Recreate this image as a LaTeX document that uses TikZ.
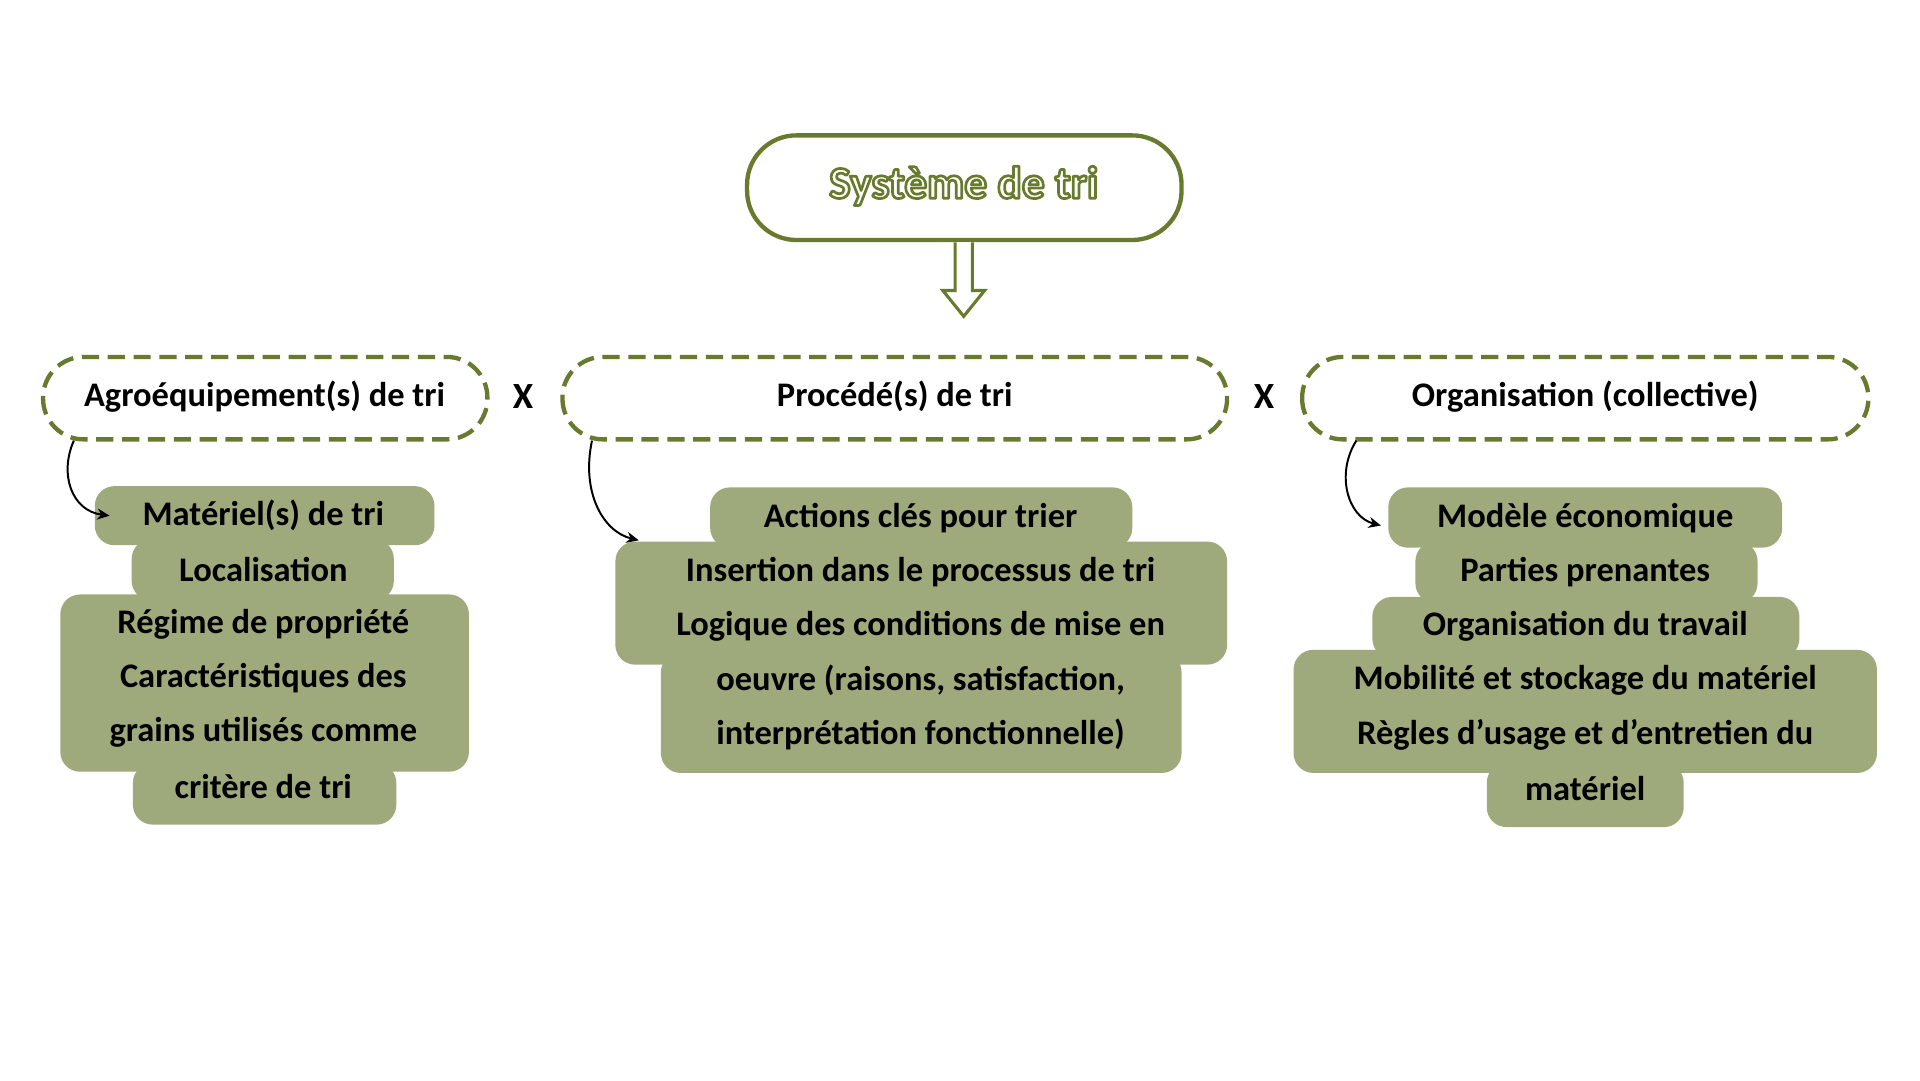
\documentclass[tikz,border=0pt]{standalone}
\usepackage{fontspec}
\setmainfont{Carlito}
\usetikzlibrary{arrows.meta}
\definecolor{dg}{HTML}{677A2E}
\definecolor{lg}{HTML}{9FAA7C}
\newcommand{\outl}[1]{\special{pdf:code q 2 Tr 2.2 w 1 j 0.404 0.478 0.18 RG 1 1 1 rg}#1\special{pdf:code Q}}
\begin{document}
\begin{tikzpicture}[x=1pt,y=-1pt,
  dbox/.style={draw=dg,line width=3.5pt,dash pattern=on 14pt off 7pt,rounded corners=33pt,fill=white},
  lbl/.style={font=\fontsize{28}{30}\selectfont\bfseries,text=black,inner sep=0pt},
  blob/.style={fill=lg,rounded corners=16pt},
  curv/.style={-{Stealth[length=10pt,width=9pt]},line width=1.6pt,black}]
\useasboundingbox (0,0) rectangle (1560,878);
% title
\draw[dg,line width=3.5pt,rounded corners=40pt,fill=white] (607,110) rectangle (960,195);
\node (title) [font=\fontsize{37}{40}\selectfont\bfseries,inner sep=0pt] at (783,151) {\outl{Système de tri}};
% hollow arrow
\draw[dg,line width=2.5pt,fill=white,line join=miter] (776,197) -- (776,236) -- (766,236) -- (783,257) -- (800,236) -- (790,236) -- (790,197);
% dashed boxes
\draw[dbox] (35,290) rectangle (396,357);
\draw[dbox] (457,290) rectangle (997,357);
\draw[dbox] (1058,290) rectangle (1518,357);
\node (a) [lbl] at (215,322) {Agroéquipement(s) de tri};
\node (b) [lbl] at (727,322) {Procédé(s) de tri};
\node (c) [lbl] at (1288,322) {Organisation (collective)};
\node (x1) [lbl,font=\fontsize{30}{32}\selectfont\bfseries] at (425,322) {X};
\node (x2) [lbl,font=\fontsize{30}{32}\selectfont\bfseries] at (1027,322) {X};
% blobs left
\fill[blob] (77,395) rectangle (353,443);
\fill[blob] (107,438) rectangle (320,488);
\fill[blob] (49,483) rectangle (381,627);
\fill[blob] (108,620) rectangle (322,670);
% blobs middle
\fill[blob] (577,396) rectangle (920,445);
\fill[blob] (500,440) rectangle (997,540);
\fill[blob] (537,530) rectangle (960,628);
% blobs right
\fill[blob] (1128,396) rectangle (1448,445);
\fill[blob] (1150,440) rectangle (1428,490);
\fill[blob] (1115,485) rectangle (1462,535);
\fill[blob] (1051,528) rectangle (1525,628);
\fill[blob] (1208,620) rectangle (1368,672);
% texts
\foreach \t [count=\i] in {Matériel(s) de tri,Localisation,Régime de propriété,Caractéristiques des,grains utilisés comme,critère de tri}
  \node (l\i) [lbl] at (214,375+44*\i) {\t};
\foreach \t [count=\i] in {Actions clés pour trier,Insertion dans le processus de tri,Logique des conditions de mise en,{oeuvre (raisons, satisfaction,},interprétation fonctionnelle)}
  \node (m\i) [lbl] at (748,377+44*\i) {\t};
\foreach \t [count=\i] in {Modèle économique,Parties prenantes,Organisation du travail,Mobilité et stockage du matériel,Règles d’usage et d’entretien du,matériel}
  \node (r\i) [lbl] at (1288,377+44*\i) {\t};
% curved arrows
\coordinate (sa) at (60,358);
\coordinate (sb) at (481,358);
\coordinate (sc) at (1102,358);
\coordinate (ta) at (89,419);
\coordinate (tb) at (519,439);
\coordinate (tc) at (1122,427);
\draw[curv] (sa) .. controls (48,385) and (58,415) .. (ta);
\draw[curv] (sb) .. controls (472,400) and (490,432) .. (tb);
\draw[curv] (sc) .. controls (1085,385) and (1095,420) .. (tc);
\end{tikzpicture}
\end{document}
